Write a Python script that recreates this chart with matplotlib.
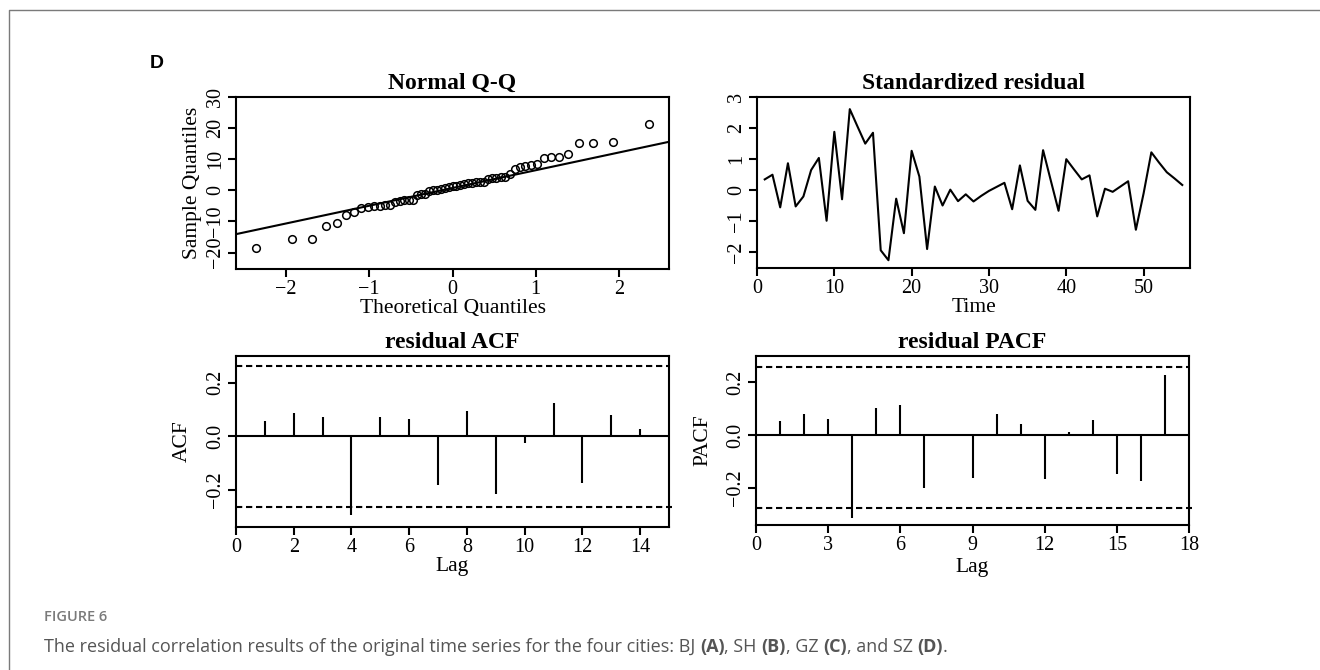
#!/usr/bin/env python3
from statistics import NormalDist

import matplotlib
matplotlib.use("Agg")
import matplotlib.pyplot as plt
from matplotlib.lines import Line2D
import numpy as np

# --------------------------------------------------------------------
# Data
# --------------------------------------------------------------------
# sorted residuals shown in the Normal Q-Q panel (n = 55)
QQ_SAMPLE = [
    -18.6, -15.7, -15.6, -11.6, -10.4, -8.0, -7.1, -5.8, -5.3, -5.2,
    -5.0, -4.8, -4.6, -3.6, -3.4, -3.2, -3.1, -3.0, -1.4, -1.2,
    -1.1, -0.3, 0.0, 0.2, 0.5, 0.8, 1.0, 1.3, 1.5, 1.7,
    2.0, 2.2, 2.4, 2.6, 2.7, 2.8, 3.6, 4.0, 4.1, 4.2,
    4.3, 5.3, 7.0, 7.5, 7.9, 8.2, 8.3, 10.3, 10.8, 10.8,
    11.8, 15.2, 15.3, 15.6, 21.3,
]
QQ_LINE_INTERCEPT = 0.75
QQ_LINE_SLOPE = 5.71

# standardized residual, t = 1..55
STD_RESID = [
    0.35, 0.50, -0.55, 0.87, -0.52, -0.20, 0.65, 1.04, -0.98, 1.88,
    -0.29, 2.61, 2.05, 1.50, 1.85, -1.93, -2.25, -0.27, -1.38, 1.27,
    0.44, -1.89, 0.12, -0.49, 0.02, -0.35, -0.13, -0.36, -0.18, -0.02,
    0.11, 0.24, -0.61, 0.80, -0.34, -0.63, 1.29, 0.31, -0.66, 1.00,
    0.67, 0.35, 0.48, -0.84, 0.05, -0.05, 0.12, 0.29, -1.27, -0.10,
    1.22, 0.89, 0.58, 0.38, 0.17,
]

ACF_LAGS = list(range(1, 15))
ACF_VALS = [0.056, 0.085, 0.071, -0.294, 0.070, 0.065, -0.184, 0.094,
            -0.216, -0.024, 0.124, -0.174, 0.081, 0.028]
ACF_CI = (0.262, -0.264)

PACF_LAGS = list(range(1, 18))
PACF_VALS = [0.052, 0.079, 0.063, -0.314, 0.102, 0.113, -0.201, -0.002,
             -0.161, 0.079, 0.042, -0.166, 0.011, 0.058, -0.145, -0.174,
             0.228]
PACF_CI = (0.257, -0.274)

CAPTION_PARTS = [
    ("The residual correlation results of the original time series for the four cities: BJ ", "normal"),
    ("(A)", "bold"), (", SH ", "normal"), ("(B)", "bold"), (", GZ ", "normal"),
    ("(C)", "bold"), (", and SZ ", "normal"), ("(D)", "bold"), (".", "normal"),
]

# --------------------------------------------------------------------
# Style
# --------------------------------------------------------------------
W, H = 1320, 670
SERIF = ["Liberation Serif", "DejaVu Serif"]
SANS = ["Open Sans", "DejaVu Sans"]
LW = 1.5
TICK_FS = 14.5
LABEL_FS = 15.5
TITLE_FS = 17
DASH = (0, (3, 1.8))

plt.rcParams["font.family"] = SERIF
plt.rcParams["axes.linewidth"] = LW


def px_axes(fig, left, top, right, bottom):
    return fig.add_axes([left / W, 1 - bottom / H, (right - left) / W, (bottom - top) / H])


def style_axes(ax):
    ax.tick_params(direction="out", length=6, width=LW, labelsize=TICK_FS, pad=2)
    plt.setp(ax.get_yticklabels(), rotation=90, va="center")


def corr_panel(ax, lags, vals, ci, xlim, xticks, title, ylabel, lag_pad):
    ax.vlines(lags, 0, vals, color="black", lw=LW)
    ax.axhline(0, color="black", lw=LW)
    ax.axhline(ci[0], color="black", lw=LW, ls=DASH)
    # lower band runs a touch past the right edge in the original
    ax.axhline(ci[1], xmax=1.008, color="black", lw=LW, ls=DASH, clip_on=False)
    ax.set_xlim(*xlim)
    ax.set_ylim(-0.34, 0.30)
    ax.set_xticks(xticks)
    ax.set_yticks([-0.2, 0.0, 0.2])
    ax.set_yticklabels(["\u22120.2", "0.0", "0.2"])
    ax.set_title(title, fontsize=TITLE_FS, fontweight="bold", pad=6)
    ax.set_ylabel(ylabel, fontsize=LABEL_FS, labelpad=10)
    ax.set_xlabel("Lag", fontsize=LABEL_FS, labelpad=lag_pad)
    style_axes(ax)


def main():
    fig = plt.figure(figsize=(W / 100, H / 100), dpi=100)

    # ---- Normal Q-Q ----
    ax = px_axes(fig, 236, 97, 669, 269)
    n = len(QQ_SAMPLE)
    theo = [NormalDist().inv_cdf((i + 0.5) / n) for i in range(n)]
    ax.plot(theo, QQ_SAMPLE, "o", mfc="none", mec="black", ms=5.5, mew=1.1)
    ax.axline((0, QQ_LINE_INTERCEPT), slope=QQ_LINE_SLOPE, color="black", lw=LW)
    ax.set_xlim(-2.6, 2.6)
    ax.set_ylim(-25.3, 30)
    ax.set_xticks([-2, -1, 0, 1, 2])
    ax.set_yticks([-20, -10, 0, 10, 20, 30])
    ax.set_title("Normal Q-Q", fontsize=TITLE_FS, fontweight="bold", pad=6)
    ax.set_xlabel("Theoretical Quantiles", fontsize=LABEL_FS, labelpad=0)
    ax.set_ylabel("Sample Quantiles", fontsize=LABEL_FS, labelpad=3)
    style_axes(ax)

    # ---- Standardized residual ----
    ax = px_axes(fig, 757, 97, 1190, 268)
    t = np.arange(1, len(STD_RESID) + 1)
    ax.plot(t, STD_RESID, color="black", lw=LW)
    ax.set_xlim(0, 56)
    ax.set_ylim(-2.5, 3)
    ax.set_xticks([0, 10, 20, 30, 40, 50])
    ax.set_yticks([-2, -1, 0, 1, 2, 3])
    ax.set_title("Standardized residual", fontsize=TITLE_FS, fontweight="bold", pad=6)
    ax.set_xlabel("Time", fontsize=LABEL_FS, labelpad=0)
    style_axes(ax)

    # ---- residual ACF / PACF ----
    ax = px_axes(fig, 236, 356, 669, 527)
    corr_panel(ax, ACF_LAGS, ACF_VALS, ACF_CI, (0, 15), range(0, 15, 2),
               "residual ACF", "ACF", 0)

    ax = px_axes(fig, 756, 356, 1189, 525)
    corr_panel(ax, PACF_LAGS, PACF_VALS, PACF_CI, (0, 18), range(0, 19, 3),
               "residual PACF", "PACF", 2)

    # ---- frame, panel letter, caption ----
    fig.add_artist(Line2D([9 / W, 9 / W, 1.0], [0.0, 1 - 10 / H, 1 - 10 / H],
                          color="#7a7a7a", lw=1.0))
    fig.text(157 / W, 1 - 64 / H, "D", fontsize=14, fontweight="bold",
             family=["Liberation Sans", "DejaVu Sans"], ha="center", va="center")
    fig.text(44 / W, 1 - 621 / H, "FIGURE 6", fontsize=10.5, fontweight="semibold",
             family=SANS, color="#7a7a7a", va="baseline")

    renderer = fig.canvas.get_renderer()
    x = 44
    for text, weight in CAPTION_PARTS:
        txt = fig.text(x / W, 1 - 652 / H, text, fontsize=13, fontweight=weight,
                       family=SANS, color="#555555", va="baseline")
        x += txt.get_window_extent(renderer).width

    fig.savefig("out.png", dpi=100)
    plt.close(fig)


if __name__ == "__main__":
    main()
